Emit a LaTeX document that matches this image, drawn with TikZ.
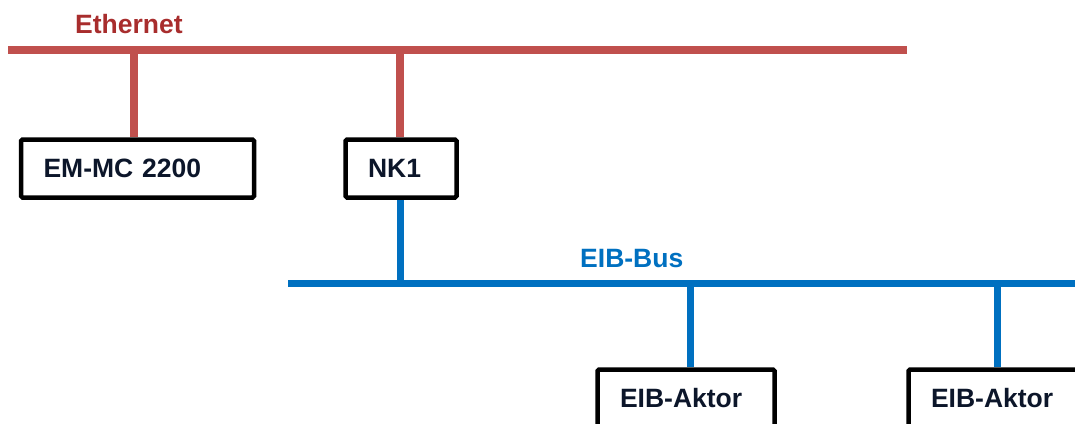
\documentclass[tikz,border=0pt]{standalone}
\usepackage{fontspec}
\setmainfont{Liberation Sans}
\definecolor{ethred}{RGB}{192,80,77}
\definecolor{ethtext}{RGB}{168,45,45}
\definecolor{eibblue}{RGB}{0,112,192}
\definecolor{boxtext}{RGB}{12,22,42}
\begin{document}
\begin{tikzpicture}[x=1pt,y=-1pt,
  lbl/.style={font=\fontsize{26.5}{30}\selectfont\bfseries},
  device/.style={draw=black,line width=4.5pt,fill=white,rounded corners=1.5pt,
    anchor=north west,inner xsep=22.5pt,inner ysep=0pt,align=left,
    minimum height=58pt,text height=19pt,text depth=2pt,text=boxtext,lbl},
  ethline/.style={draw=ethred,line width=7.5pt},
  busline/.style={draw=eibblue,line width=7pt}]
\useasboundingbox (0,0) rectangle (1075,423);
% buses
\coordinate (ethL) at (8,50);
\coordinate (ethR) at (907,50);
\coordinate (eth1) at (134,50);
\coordinate (eth2) at (400,50);
\coordinate (busL) at (288,283);
\coordinate (busR) at (1080,283);
\coordinate (bus0) at (400,283);
\coordinate (bus1) at (690,283);
\coordinate (bus2) at (997,283);
\node[lbl,text=ethtext,anchor=base west,inner sep=0pt] (ethlbl) at (75,33) {Ethernet};
\node[lbl,text=eibblue,anchor=base west,inner sep=0pt] (buslbl) at (580,267) {EIB-Bus};
% devices
\node[device,text width=188pt] (em) at (18.75,137.25) {EM-MC 2200};
\node[device,text width=66pt] (nk) at (343.25,137.25) {NK1};
\node[device,text width=132pt] (a1) at (595.25,367.25) {EIB-Aktor};
\node[device,text width=132pt] (a2) at (906.25,367.25) {EIB-Aktor};
% connectors
\draw[ethline] (ethL) -- (ethR);
\draw[ethline] (eth1) -- (em.north -| eth1);
\draw[ethline] (eth2) -- (nk.north -| eth2);
\draw[busline] (busL) -- (busR);
\draw[busline] (nk.south -| bus0) -- (bus0);
\draw[busline] (bus1) -- (a1.north -| bus1);
\draw[busline] (bus2) -- (a2.north -| bus2);
\end{tikzpicture}
\end{document}
